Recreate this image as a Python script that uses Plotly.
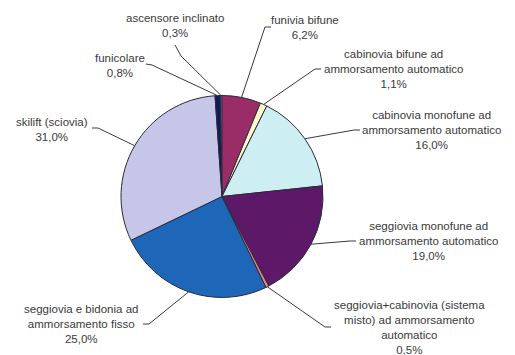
import math
import plotly.graph_objects as go

W, H = 515, 355

# ---- data ----
categories = [
    "ascensore inclinato",
    "funivia bifune",
    "cabinovia bifune ad<br>ammorsamento automatico",
    "cabinovia monofune ad<br>ammorsamento automatico",
    "seggiovia monofune ad<br>ammorsamento automatico",
    "seggiovia+cabinovia (sistema<br>misto) ad ammorsamento<br>automatico",
    "seggiovia e bidonia ad<br>ammorsamento fisso",
    "skilift (sciovia)",
    "funicolare",
]
values = [0.3, 6.2, 1.1, 16.0, 19.0, 0.5, 25.0, 31.0, 0.8]
colors = ["#9999ee", "#9a2c68", "#fff8cc", "#cdeff2", "#5e1868",
          "#f08080", "#1e66b8", "#c6c6e8", "#14185a"]

# ---- layout (pixels) ----
cx, cy, R = 222.0, 196.5, 101.0
# label centre and leader attach point / knee
label_pos = [(175, 25.5), (305, 27), (393, 69), (431, 130), (428, 241),
             (409, 327.5), (81, 324), (52, 129.5), (120, 65.5)]
attach = [(175, 45), (271, 27), (321, 69), (360, 130), (356, 241),
          (331, 327), (143, 324), (92, 128), (146, 64)]
knee = [(181, 56), (265, 27), (315, 69), (354, 130), (350, 241),
        (325, 327), (149, 324), (98, 128), (152, 65)]

total = sum(values)
rotation = -360.0 * values[0] / total


def px(x):
    return x / W


def py(y):
    return 1 - y / H


fig = go.Figure(go.Pie(
    labels=categories, values=values, sort=False, direction="clockwise",
    rotation=rotation, textinfo="none", hoverinfo="label+percent",
    marker=dict(colors=colors, line=dict(color="#2a2a3a", width=1)),
    domain=dict(x=[px(cx - R), px(cx + R)], y=[py(cy + R), py(cy - R)]),
    showlegend=False,
))

shapes = []
annotations = []
cum = 0.0
for i, v in enumerate(values):
    th = math.radians(rotation + 360.0 * (cum + v / 2) / total)
    cum += v
    ex, ey = cx + R * math.sin(th), cy - R * math.cos(th)
    kx, ky = knee[i]
    ax, ay = attach[i]
    path = f"M {px(ex)},{py(ey)} L {px(kx)},{py(ky)} L {px(ax)},{py(ay)}"
    shapes.append(dict(type="path", xref="paper", yref="paper", path=path,
                       line=dict(color="#3a3a3a", width=1)))
    txt = categories[i] + "<br>" + f"{v:.1f}%".replace(".", ",")
    lx, ly = label_pos[i]
    annotations.append(dict(x=px(lx), y=py(ly), xref="paper", yref="paper",
                            text=txt, showarrow=False, xanchor="center",
                            yanchor="middle", align="center",
                            font=dict(family="Liberation Sans, Arial", size=11.5,
                                      color="#3a3a3a")))

fig.update_layout(width=W, height=H, margin=dict(l=0, r=0, t=0, b=0),
                  paper_bgcolor="white", plot_bgcolor="white",
                  shapes=shapes, annotations=annotations)
fig.write_html("out.html")
